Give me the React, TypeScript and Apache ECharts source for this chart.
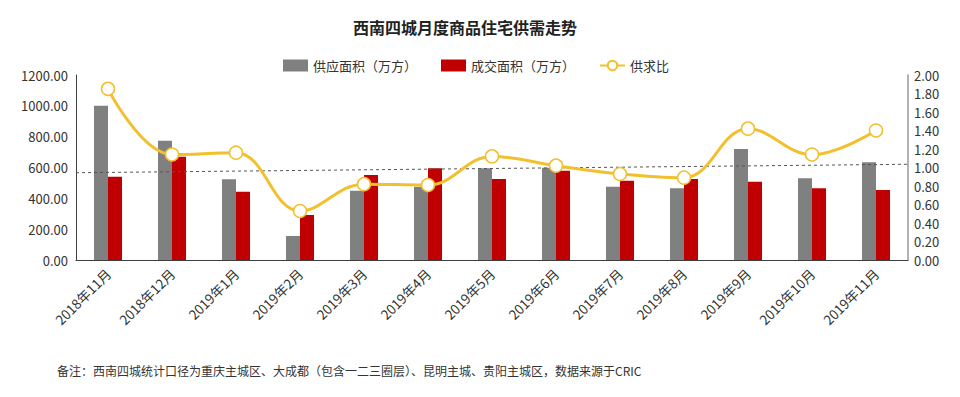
import React, { useEffect, useRef } from "react";
import * as echarts from "echarts";

const titleText = "西南四城月度商品住宅供需走势";
const footnote = "备注：西南四城统计口径为重庆主城区、大成都（包含一二三圈层）、昆明主城、贵阳主城区，数据来源于CRIC";
const categories = [
  "2018年11月", "2018年12月", "2019年1月", "2019年2月", "2019年3月", "2019年4月",
  "2019年5月", "2019年6月", "2019年7月", "2019年8月", "2019年9月", "2019年10月", "2019年11月",
];
const supply = [1000, 774, 523, 156, 449, 475, 595, 598, 475, 465, 720, 530, 634];
const deal = [540, 670, 443, 292, 551, 595, 525, 579, 514, 525, 508, 465, 454];
const ratio = [1.85, 1.14, 1.16, 0.53, 0.82, 0.81, 1.12, 1.02, 0.93, 0.89, 1.42, 1.14, 1.4];
const trendX = [-0.5, 12.5];
const trendY = [566, 621];
const leftTicks = { min: 0, max: 1200, interval: 200 };
const rightTicks = { min: 0, max: 2, interval: 0.2 };

const FONT = "'Noto Sans CJK SC', 'Noto Sans', sans-serif";
const YELLOW = "#F2C02F";

export default function App() {
  const ref = useRef<HTMLDivElement>(null);
  useEffect(() => {
    const chart = echarts.init(ref.current!, null, { renderer: "svg" });
    chart.setOption({
      animation: false,
      backgroundColor: "#ffffff",
      textStyle: { fontFamily: FONT },
      title: {
        text: titleText,
        left: 460,
        textAlign: "center",
        top: 14,
        textStyle: { fontFamily: FONT, fontSize: 16, fontWeight: "bold", color: "#222" },
      },
      graphic: [
        {
          type: "text",
          left: 57,
          top: 364,
          style: { text: footnote, fontFamily: FONT, fontSize: 12, fill: "#333" },
        },
      ],
      legend: {
        left: 278,
        top: 54,
        itemGap: 24,
        itemWidth: 25,
        itemHeight: 12,
        textStyle: { fontFamily: FONT, fontSize: 13, color: "#333" },
        data: [
          { name: "供应面积（万方）", icon: "rect" },
          { name: "成交面积（万方）", icon: "rect" },
          { name: "供求比", itemStyle: { color: "#fff", borderColor: YELLOW } },
        ],
      },
      grid: { left: 76, right: 52, top: 75, bottom: 137, containLabel: false },
      xAxis: [
        {
          type: "category",
          data: categories,
          axisLine: { lineStyle: { color: "#404040", width: 1 } },
          axisTick: { show: false },
          axisLabel: {
            interval: 0,
            rotate: 45,
            fontFamily: FONT,
            fontSize: 13.5,
            color: "#333",
            margin: 11,
          },
        },
        {
          type: "value",
          min: trendX[0],
          max: trendX[1],
          show: false,
        },
      ],
      yAxis: [
        {
          type: "value",
          ...leftTicks,
          axisLine: { show: true, onZero: false, lineStyle: { color: "#404040" } },
          axisTick: { show: false },
          splitLine: { show: false },
          axisLabel: {
            fontFamily: FONT,
            fontSize: 13,
            color: "#333",
            margin: 8,
            formatter: (v: number) => v.toFixed(2),
          },
        },
        {
          type: "value",
          ...rightTicks,
          axisLine: { show: true, onZero: false, lineStyle: { color: "#999", width: 1.5 } },
          axisTick: { show: false },
          splitLine: { show: false },
          axisLabel: {
            fontFamily: FONT,
            fontSize: 13,
            color: "#333",
            margin: 6,
            formatter: (v: number) => v.toFixed(2),
          },
        },
      ],
      series: [
        {
          name: "供应面积（万方）",
          type: "bar",
          data: supply,
          barWidth: 14,
          barGap: "0%",
          itemStyle: { color: "#808080" },
        },
        {
          name: "成交面积（万方）",
          type: "bar",
          data: deal,
          barWidth: 14,
          itemStyle: { color: "#C00000" },
        },
        {
          name: "trend",
          type: "line",
          xAxisIndex: 1,
          yAxisIndex: 0,
          data: trendX.map((x, i) => [x, trendY[i]]),
          symbol: "none",
          lineStyle: { color: "#555", width: 1, type: [3, 3] },
          silent: true,
          z: 3,
        },
        {
          name: "供求比",
          type: "line",
          yAxisIndex: 1,
          data: ratio,
          smooth: 0.4,
          symbol: "circle",
          symbolSize: 13,
          lineStyle: { color: YELLOW, width: 3 },
          itemStyle: { color: "#ffffff", borderColor: YELLOW, borderWidth: 1.5 },
          z: 5,
        },
      ],
    });
    return () => chart.dispose();
  }, []);
  return (
    <div
      ref={ref}
      style={{ position: "absolute", left: 0, top: 0, width: 960, height: 397 }}
    />
  );
}
